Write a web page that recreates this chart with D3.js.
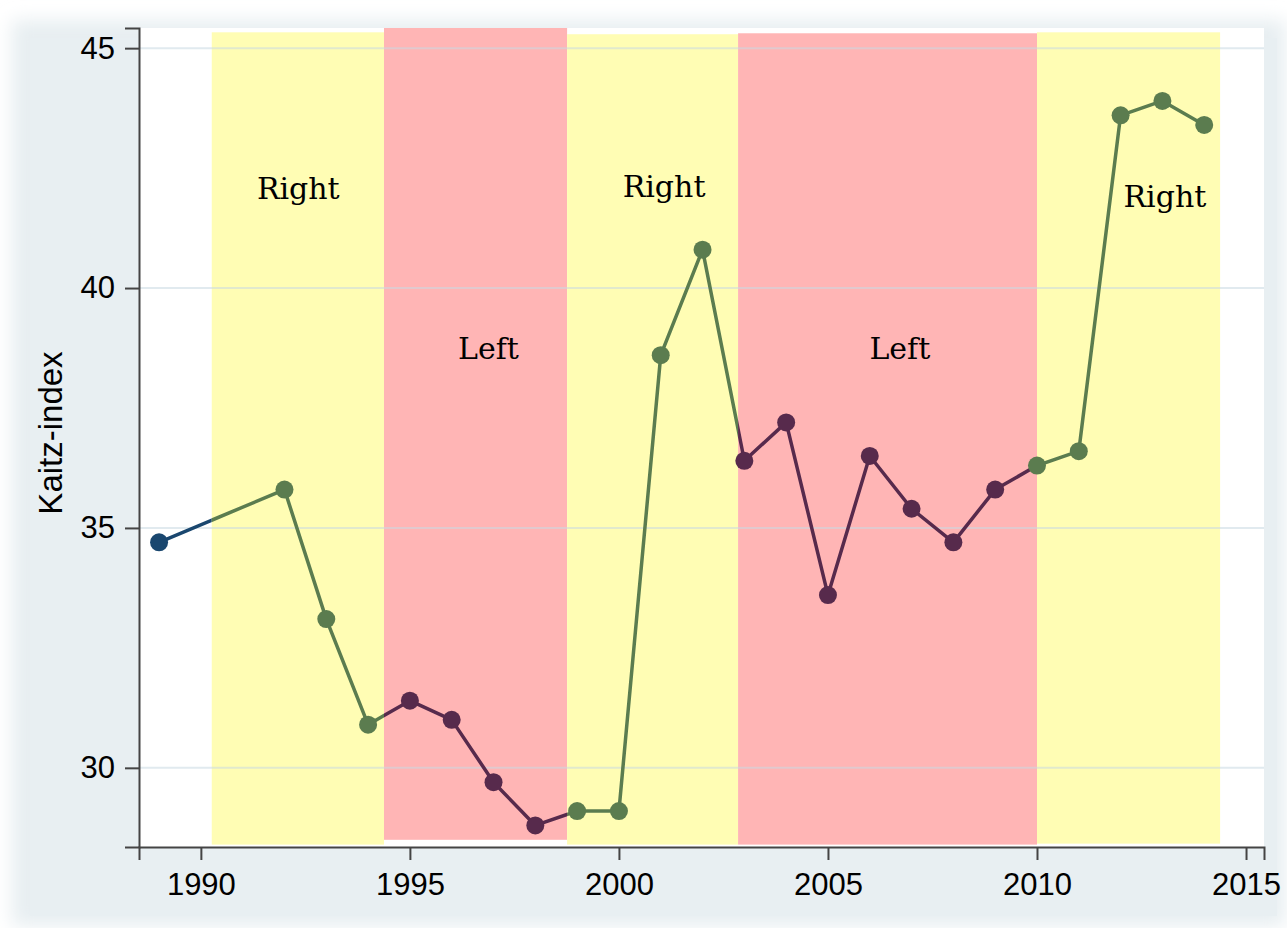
<!DOCTYPE html>
<html>
<head>
<meta charset="utf-8">
<script src="https://cdn.jsdelivr.net/npm/d3@7"></script>
<style>
  body { margin: 0; background: #fff; }
</style>
</head>
<body>
<script>
// data
var years  = [1989, 1992, 1993, 1994, 1995, 1996, 1997, 1998, 1999, 2000, 2001, 2002,
              2003, 2004, 2005, 2006, 2007, 2008, 2009, 2010, 2011, 2012, 2013, 2014];
var kaitz  = [34.7, 35.8, 33.1, 30.9, 31.4, 31.0, 29.7, 28.8, 29.1, 29.1, 38.6, 40.8,
              36.4, 37.2, 33.6, 36.5, 35.4, 34.7, 35.8, 36.3, 36.6, 43.6, 43.9, 43.4];
var bandStart = [1990.26, 1994.38, 1998.76, 2002.85, 2010.0];
var bandEnd   = [1994.38, 1998.76, 2002.85, 2010.0, 2014.38];
var bandSide  = ["Right", "Left", "Right", "Left", "Right"];
var bandTop   = [45.33, 45.42, 45.29, 45.31, 45.33];
var bandBot   = [28.40, 28.50, 28.40, 28.40, 28.42];
var labelYear = [1992.33, 1996.88, 2001.08, 2006.72, 2013.06];
var labelVal  = [41.85, 38.52, 41.90, 38.52, 41.69];
var yTicks = [30, 35, 40, 45];
var xTicks = [1990, 1995, 2000, 2005, 2010, 2015];

var W = 1287, H = 928;
var fill = { Right: "#fffdb4", Left: "#ffb5b5" };
var ink  = { none: "#1a476f", Right: "#5b7c4f", Left: "#572a4c" };

var svg = d3.select("body").append("svg").attr("width", W).attr("height", H);

// soft outer panel
var defs = svg.append("defs");
defs.append("filter").attr("id", "soft").attr("x", "-5%").attr("y", "-5%")
  .attr("width", "110%").attr("height", "110%")
  .append("feGaussianBlur").attr("stdDeviation", 9);
svg.append("rect").attr("x", 12).attr("y", 20).attr("width", W - 14).attr("height", H - 22)
  .attr("fill", "#e7eef1").attr("filter", "url(#soft)");
svg.append("rect").attr("x", 30).attr("y", 38).attr("width", W - 40).attr("height", H - 50)
  .attr("fill", "#e8eff2");

var x = d3.scaleLinear().domain([1988.52, 2015.43]).range([139, 1264]);
var y = d3.scaleLinear().domain([28.35, 45.42]).range([847, 28]);

// plot region
svg.append("rect").attr("x", x.range()[0]).attr("y", y.range()[1])
  .attr("width", x.range()[1] - x.range()[0]).attr("height", y.range()[0] - y.range()[1])
  .attr("fill", "#fff");

// shaded government bands
svg.selectAll("rect.band").data(bandSide).enter().append("rect")
  .attr("class", "band")
  .attr("x", function(d, i) { return x(bandStart[i]); })
  .attr("y", function(d, i) { return y(bandTop[i]); })
  .attr("width", function(d, i) { return x(bandEnd[i]) - x(bandStart[i]); })
  .attr("height", function(d, i) { return y(bandBot[i]) - y(bandTop[i]); })
  .attr("fill", function(d) { return fill[d]; });

// gridlines over the bands
svg.selectAll("line.grid").data(yTicks).enter().append("line")
  .attr("class", "grid")
  .attr("x1", x.range()[0]).attr("x2", x.range()[1])
  .attr("y1", function(d) { return y(d); }).attr("y2", function(d) { return y(d); })
  .attr("stroke", "#c9d9e1").attr("stroke-opacity", 0.55).attr("stroke-width", 2);

// band labels
svg.selectAll("text.side").data(bandSide).enter().append("text")
  .attr("class", "side")
  .attr("x", function(d, i) { return x(labelYear[i]); })
  .attr("y", function(d, i) { return y(labelVal[i]); })
  .attr("text-anchor", "middle")
  .attr("font-family", "'DejaVu Serif', serif")
  .attr("font-size", 30)
  .attr("fill", "#000")
  .text(function(d) { return d; });

// line, coloured by the band it crosses (clip per band type)
var pts = years.map(function(d, i) { return [d, kaitz[i]]; });
var line = d3.line().x(function(d) { return x(d[0]); }).y(function(d) { return y(d[1]); });

function sideOf(yr) {
  for (var i = 0; i < bandSide.length; i++) {
    if (yr >= bandStart[i] && yr < bandEnd[i]) return bandSide[i];
  }
  return "none";
}

["none", "Right", "Left"].forEach(function(kind) {
  var cp = defs.append("clipPath").attr("id", "clip-" + kind);
  if (kind == "none") {
    cp.append("rect").attr("x", 0).attr("y", 0).attr("width", x(bandStart[0])).attr("height", H);
    cp.append("rect").attr("x", x(bandEnd[4])).attr("y", 0).attr("width", W).attr("height", H);
  } else {
    bandSide.forEach(function(s, i) {
      if (s == kind) {
        cp.append("rect").attr("x", x(bandStart[i])).attr("y", 0)
          .attr("width", x(bandEnd[i]) - x(bandStart[i])).attr("height", H);
      }
    });
  }
  svg.append("path").attr("d", line(pts))
    .attr("fill", "none").attr("stroke", ink[kind]).attr("stroke-width", 3.5)
    .attr("stroke-linejoin", "round")
    .attr("clip-path", "url(#clip-" + kind + ")");
});

svg.selectAll("circle.pt").data(pts).enter().append("circle")
  .attr("class", "pt")
  .attr("cx", function(d) { return x(d[0]); })
  .attr("cy", function(d) { return y(d[1]); })
  .attr("r", 9)
  .attr("fill", function(d) { return ink[sideOf(d[0])]; });

// axes
var yAxis = svg.append("g").attr("transform", "translate(" + x.range()[0] + ",0)")
  .call(d3.axisLeft(y).tickValues(yTicks).tickSize(14).tickPadding(10));
var xAxis = svg.append("g").attr("transform", "translate(0," + y.range()[0] + ")")
  .call(d3.axisBottom(x).tickValues(xTicks).tickFormat(d3.format("d")).tickSize(13).tickPadding(13));

[yAxis, xAxis].forEach(function(g) {
  g.select(".domain").attr("stroke", "#444").attr("stroke-width", 2);
  g.selectAll(".tick line").attr("stroke", "#444").attr("stroke-width", 2);
  g.selectAll(".tick text").attr("font-family", "'Liberation Sans', Arial, sans-serif")
    .attr("font-size", 31).attr("fill", "#000");
});

svg.append("text")
  .attr("transform", "translate(62,433) rotate(-90)")
  .attr("text-anchor", "middle")
  .attr("font-family", "'Liberation Sans', Arial, sans-serif")
  .attr("font-size", 33)
  .attr("fill", "#000")
  .text("Kaitz-index");
</script>
</body>
</html>
